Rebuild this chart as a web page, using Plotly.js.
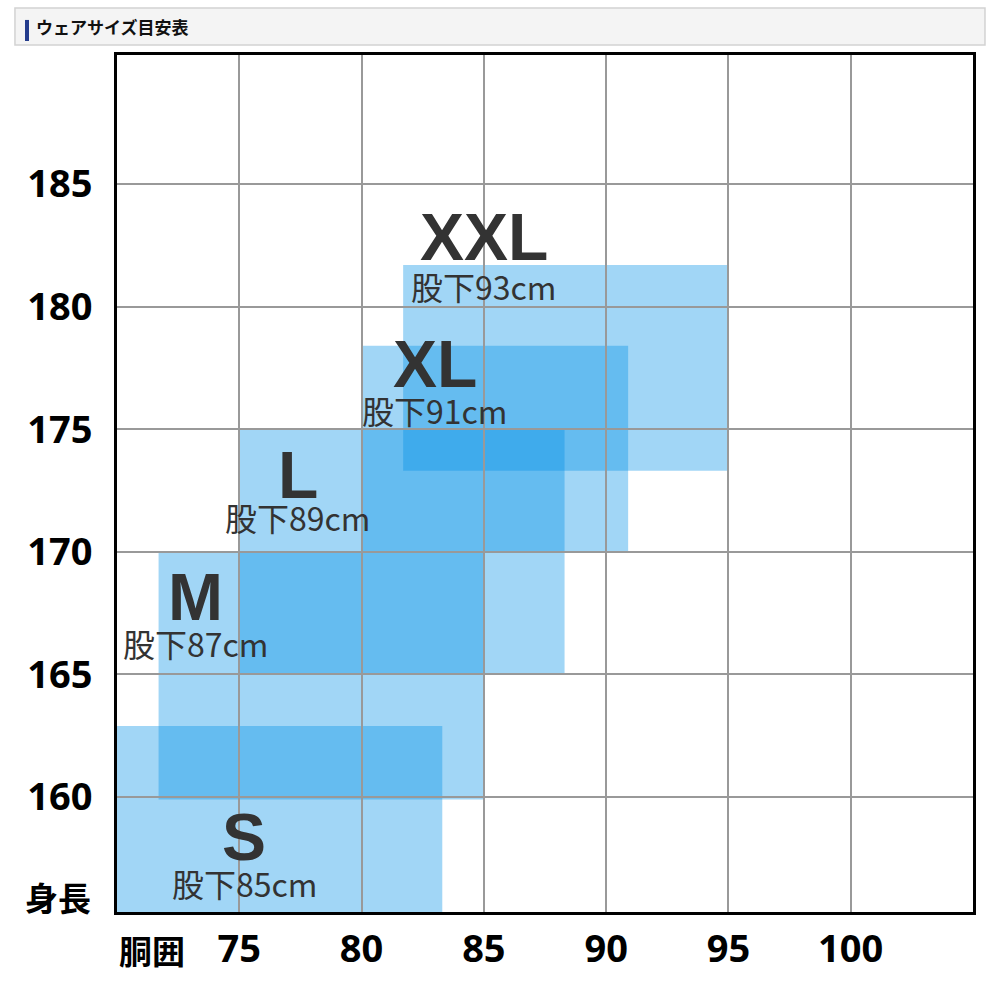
<!DOCTYPE html>
<html>
<head>
<meta charset="utf-8">
<script src="https://cdn.plot.ly/plotly-3.0.1.min.js"></script>
<style>html,body{margin:0;padding:0;background:#fff;}#chart{width:1000px;height:1000px;}</style>
</head>
<body>
<div id="chart"></div>
<script>
// Data
var sizes = ["S", "M", "L", "XL", "XXL"];
var inseams = ["股下85cm", "股下87cm", "股下89cm", "股下91cm", "股下93cm"];
var waistMin = [70, 71.7, 75, 80, 81.7];
var waistMax = [83.3, 85, 88.3, 90.9, 95];
var heightMin = [155.3, 159.9, 165, 170, 173.3];
var heightMax = [162.9, 170, 175, 178.4, 181.7];
// label anchor positions (data coords)
var labelX = [75.2, 73.2, 77.4, 83.0, 85.0];
var sizeLabelY = [158.35, 168.15, 173.15, 177.65, 182.85];
var inseamLabelY = [156.5, 166.3, 171.4, 175.8, 180.85];
var xTicks = [75, 80, 85, 90, 95, 100];
var yTicks = [160, 165, 170, 175, 180, 185];
var xTitle = "胴囲";
var yTitle = "身長";
var header = "ウェアサイズ目安表";

var cjk = "Noto Sans CJK JP, sans-serif";
var tickFont = {family: "Noto Sans, Noto Sans CJK JP, sans-serif", size: 38, color: "#000", weight: 700};

var shapes = [];
// header box
shapes.push({type: "rect", xref: "paper", yref: "paper", x0: -0.1192, x1: 1.014, y0: 1.0117, y1: 1.0548,
  fillcolor: "#f4f4f4", line: {color: "#d2d2d2", width: 1.5}, layer: "above"});
shapes.push({type: "rect", xref: "paper", yref: "paper", x0: -0.1075, x1: -0.1028, y0: 1.0163, y1: 1.0409,
  fillcolor: "#243c8c", line: {width: 0}, layer: "above"});

for (var i = 0; i < sizes.length; i++) {
  shapes.push({type: "rect", xref: "x", yref: "y", x0: waistMin[i], x1: waistMax[i], y0: heightMin[i], y1: heightMax[i],
    fillcolor: "rgba(0,145,230,0.37)", line: {width: 0}, layer: "below"});
}

var annotations = [];
for (var j = 0; j < sizes.length; j++) {
  annotations.push({x: labelX[j], y: sizeLabelY[j], xref: "x", yref: "y", text: "<b>" + sizes[j] + "</b>",
    showarrow: false, font: {family: "Liberation Sans, Arial, sans-serif", size: 66, color: "#333"}, xanchor: "center", yanchor: "middle"});
  annotations.push({x: labelX[j], y: inseamLabelY[j], xref: "x", yref: "y", text: inseams[j],
    showarrow: false, font: {family: cjk, size: 32, color: "#333"}, xanchor: "center", yanchor: "middle"});
}
annotations.push({xref: "paper", yref: "paper", x: -0.097, y: 1.0327, text: "<b>" + header + "</b>", showarrow: false,
  xanchor: "left", yanchor: "middle", font: {family: cjk, size: 17, color: "#111"}});
annotations.push({xref: "paper", yref: "paper", x: -0.028, y: 0.0175, text: "<b>" + yTitle + "</b>", showarrow: false,
  xanchor: "right", yanchor: "middle", font: {family: cjk, size: 33, color: "#000"}});
annotations.push({xref: "paper", yref: "paper", x: 0.0, y: -0.0443, text: "<b>" + xTitle + "</b>", showarrow: false,
  xanchor: "left", yanchor: "middle", font: {family: cjk, size: 33, color: "#000"}});

var layout = {
  width: 1000, height: 1000,
  margin: {l: 117, r: 27, t: 55, b: 88, pad: 0},
  paper_bgcolor: "#fff", plot_bgcolor: "#fff",
  showlegend: false,
  xaxis: {range: [70, 105], tickvals: xTicks, ticktext: xTicks.map(String), showgrid: true, gridcolor: "#999", gridwidth: 2,
    zeroline: false, showline: true, mirror: true, linecolor: "#000", linewidth: 3, ticks: "", tickfont: tickFont,
    ticklabelstandoff: 1, fixedrange: true},
  yaxis: {range: [155.31, 190.26], tickvals: yTicks, ticktext: yTicks.map(String), showgrid: true, gridcolor: "#999", gridwidth: 2,
    zeroline: false, showline: true, mirror: true, linecolor: "#000", linewidth: 3, ticks: "", tickfont: tickFont,
    ticklabelstandoff: 14, fixedrange: true},
  shapes: shapes,
  annotations: annotations
};

Plotly.newPlot("chart", [], layout, {displayModeBar: false, staticPlot: true});
</script>
</body>
</html>
